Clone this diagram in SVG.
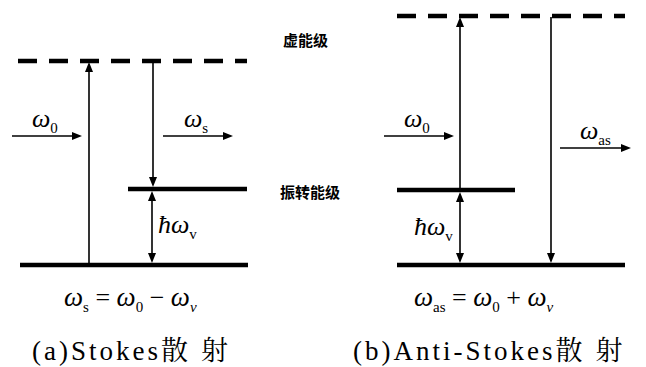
<svg xmlns="http://www.w3.org/2000/svg" width="646" height="367" viewBox="0 0 646 367">
<style>
.lvl{stroke:#000;stroke-width:4.5;fill:none}
.dash{stroke:#000;stroke-width:4.5;stroke-dasharray:19 12;fill:none}
.ar{stroke:#000;stroke-width:1.6;fill:none}
.hd{fill:#000;stroke:none}
</style>
<g id="levels-a">
<line class="dash" x1="18" y1="61" x2="247" y2="61"/>
<line class="lvl" x1="128" y1="189" x2="247" y2="189"/>
<line class="lvl" x1="20" y1="265" x2="248" y2="265"/>
</g>
<g id="levels-b">
<line class="dash" x1="397" y1="16" x2="625" y2="16"/>
<line class="lvl" x1="397" y1="190" x2="515" y2="190"/>
<line class="lvl" x1="397" y1="265" x2="625" y2="265"/>
</g>
<g id="connectors">
<line class="ar" x1="89" y1="264" x2="89" y2="70"/>
<path class="hd" d="M89,62 L85,72 L93,72 Z"/>
<line class="ar" x1="153" y1="62" x2="153" y2="179"/>
<path class="hd" d="M153,187 L149,177 L157,177 Z"/>
<line class="ar" x1="152" y1="199" x2="152" y2="255"/>
<path class="hd" d="M152,191 L148,201 L156,201 Z"/>
<path class="hd" d="M152,263 L148,253 L156,253 Z"/>
<line class="ar" x1="12" y1="136" x2="74" y2="136"/>
<path class="hd" d="M82,136 L72,132 L72,140 Z"/>
<line class="ar" x1="163" y1="136" x2="225" y2="136"/>
<path class="hd" d="M233,136 L223,132 L223,140 Z"/>
<line class="ar" x1="460" y1="190" x2="460" y2="25"/>
<path class="hd" d="M460,17 L456,27 L464,27 Z"/>
<line class="ar" x1="460" y1="200" x2="460" y2="255"/>
<path class="hd" d="M460,192 L456,202 L464,202 Z"/>
<path class="hd" d="M460,263 L456,253 L464,253 Z"/>
<line class="ar" x1="551" y1="17" x2="551" y2="255"/>
<path class="hd" d="M551,263 L547,253 L555,253 Z"/>
<line class="ar" x1="384" y1="136" x2="446" y2="136"/>
<path class="hd" d="M454,136 L444,132 L444,140 Z"/>
<line class="ar" x1="560" y1="148" x2="623" y2="148"/>
<path class="hd" d="M631,148 L621,144 L621,152 Z"/>
</g>
<g id="math" font-family="Liberation Serif" font-size="26" fill="#000">
<text x="32" y="127" font-family="Liberation Serif" font-style="italic">ω<tspan font-style="normal" font-size="15" dy="6">0</tspan></text>
<text x="184" y="127" font-family="Liberation Serif" font-style="italic">ω<tspan font-style="normal" font-size="15" dy="6">s</tspan></text>
<text x="158" y="233" font-family="Liberation Serif" font-style="italic">ħω<tspan font-style="normal" font-size="15" dy="6">v</tspan></text>
<text x="64" y="306" font-family="Liberation Serif" font-style="italic" font-size="27">ω<tspan font-style="normal" font-size="15" dy="6">s</tspan><tspan font-style="normal" font-size="26" dy="-6"> = </tspan>ω<tspan font-style="normal" font-size="15" dy="6">0</tspan><tspan font-style="normal" font-size="26" dy="-6"> − </tspan>ω<tspan font-size="15" dy="6">ν</tspan></text>
<text x="404" y="127" font-family="Liberation Serif" font-style="italic">ω<tspan font-style="normal" font-size="15" dy="6">0</tspan></text>
<text x="580" y="139" font-family="Liberation Serif" font-style="italic">ω<tspan font-style="normal" font-size="15" dy="6">as</tspan></text>
<text x="414" y="235" font-family="Liberation Serif" font-style="italic">ħω<tspan font-style="normal" font-size="15" dy="6">v</tspan></text>
<text x="414" y="306" font-family="Liberation Serif" font-style="italic" font-size="27">ω<tspan font-style="normal" font-size="15" dy="6">as</tspan><tspan font-style="normal" font-size="26" dy="-6"> = </tspan>ω<tspan font-style="normal" font-size="15" dy="6">0</tspan><tspan font-style="normal" font-size="26" dy="-6"> + </tspan>ω<tspan font-size="15" dy="6">ν</tspan></text>
</g>
<g id="captions" font-size="27" fill="#000" letter-spacing="3">
<text x="32" y="360" font-family="Liberation Serif">(a)Stokes<tspan font-family="Noto Serif CJK SC">散 射</tspan></text>
<text x="353" y="360" font-family="Liberation Serif">(b)Anti-Stokes<tspan font-family="Noto Serif CJK SC">散 射</tspan></text>
</g>
<g id="level-names" font-weight="bold" font-size="15" fill="#000">
<text x="283" y="46" font-family="Noto Sans CJK SC">虚能级</text>
<text x="280" y="198" font-family="Noto Sans CJK SC">振转能级</text>
</g>
</svg>
